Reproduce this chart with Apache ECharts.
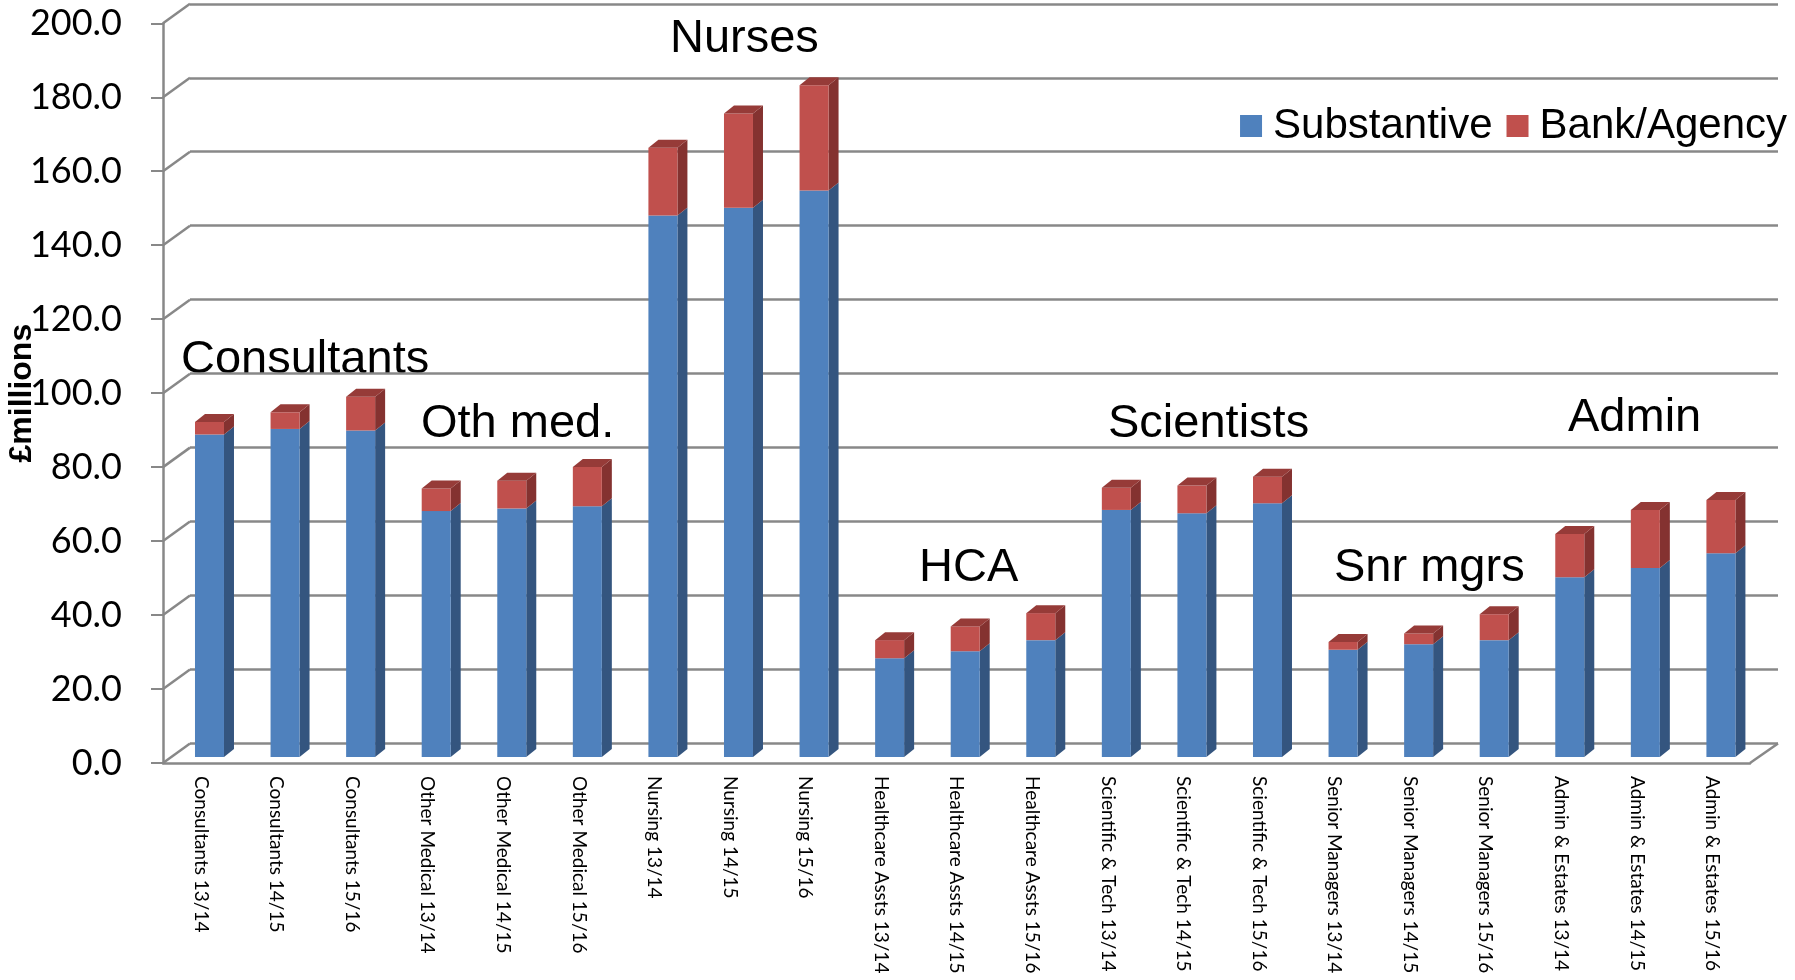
<!DOCTYPE html>
<html>
<head>
<meta charset="utf-8">
<script src="https://cdn.jsdelivr.net/npm/echarts@6/dist/echarts.min.js"></script>
<style>
    html, body { margin: 0; padding: 0; background: #fff; }
    #chart { width: 1795px; height: 980px; }
</style>
</head>
<body>
<div id="chart"></div>
<script>
const categories = [
    'Consultants 13/14', 'Consultants 14/15', 'Consultants 15/16',
    'Other Medical 13/14', 'Other Medical 14/15', 'Other Medical 15/16',
    'Nursing 13/14', 'Nursing 14/15', 'Nursing 15/16',
    'Healthcare Assts 13/14', 'Healthcare Assts 14/15', 'Healthcare Assts 15/16',
    'Scientific & Tech 13/14', 'Scientific & Tech 14/15', 'Scientific & Tech 15/16',
    'Senior Managers 13/14', 'Senior Managers 14/15', 'Senior Managers 15/16',
    'Admin & Estates 13/14', 'Admin & Estates 14/15', 'Admin & Estates 15/16'
]
const substantive = [
    87.2, 88.7, 88.3,
    66.5, 67.2, 67.8,
    146.4, 148.5, 153.2,
    26.7, 28.6, 31.6,
    66.8, 65.9, 68.6,
    29.0, 30.5, 31.6,
    48.6, 51.1, 55.1
]
const bankAgency = [
    3.4, 4.5, 9.1,
    6.1, 7.5, 10.6,
    18.3, 25.5, 28.4,
    4.9, 6.7, 7.3,
    6.0, 7.5, 7.2,
    2.1, 2.9, 7.0,
    11.7, 15.7, 14.4
]
const yTicks = [0, 20, 40, 60, 80, 100, 120, 140, 160, 180, 200]
const groupNames = ['Consultants', 'Oth med.', 'Nurses', 'HCA', 'Scientists', 'Snr mgrs', 'Admin']

// pixel placement of the group captions
const groupPos = [[181, 357], [421, 421], [670, 36], [919, 565], [1108, 421], [1334, 565], [1568, 415]]

// fake 3d: wall depth, bar plane offset, bar depth
const WALL = [27, -19.5]
const BAR_OFF = [8.7, -6]
const BAR_DEPTH = [10, -8]
const BAR_W = 29
const AXIS_COLOR = '#888888'

function segment(api, i, lo, hi, colors, withTop) {
    const p0 = api.coord([i, lo])
    const p1 = api.coord([i, hi])
    const x0 = p0[0] + BAR_OFF[0] - BAR_W / 2
    const x1 = x0 + BAR_W
    const yb = p0[1] + BAR_OFF[1]
    const yt = p1[1] + BAR_OFF[1]
    const dx = BAR_DEPTH[0]
    const dy = BAR_DEPTH[1]
    const children = [
        {
            type: 'polygon',
            shape: { points: [[x1, yb], [x1, yt], [x1 + dx, yt + dy], [x1 + dx, yb + dy]] },
            style: { fill: colors.side }
        },
        {
            type: 'rect',
            shape: { x: x0, y: yt, width: BAR_W, height: yb - yt },
            style: { fill: colors.front }
        }
    ]
    if (withTop) {
        children.push({
            type: 'polygon',
            shape: { points: [[x0, yt], [x1, yt], [x1 + dx, yt + dy], [x0 + dx, yt + dy]] },
            style: { fill: colors.top }
        })
    }
    return { type: 'group', children: children }
}

const blue = { front: '#4F81BD', side: '#34557F', top: '#3E6595' }
const red = { front: '#C0504D', side: '#843230', top: '#963B38' }

const chart = echarts.init(document.getElementById('chart'))
chart.setOption({
    backgroundColor: '#fff',
    animation: false,
    legend: {
        data: ['Substantive', 'Bank/Agency'],
        right: 3,
        top: 100,
        icon: 'rect',
        itemWidth: 22,
        itemHeight: 22,
        itemGap: 14,
        textStyle: {
            fontFamily: 'Liberation Sans',
            fontSize: 42,
            color: '#000',
            padding: [0, 0, 0, 6]
        }
    },
    grid: [
        { left: 163, right: 45, top: 23.3, bottom: 217, outerBoundsMode: 'none' },
        { left: 163 + WALL[0], right: 45 - 28, top: 23.3 + WALL[1], bottom: 217 - WALL[1], outerBoundsMode: 'none' }
    ],
    xAxis: [
        {
            type: 'category',
            gridIndex: 0,
            data: categories,
            axisLine: { lineStyle: { color: AXIS_COLOR, width: 2.5 } },
            axisTick: { length: 8, lineStyle: { color: AXIS_COLOR, width: 2 } },
            axisLabel: {
                interval: 0,
                rotate: -90,
                margin: 13,
                fontFamily: 'Lato',
                fontSize: 19,
                color: '#000'
            }
        },
        {
            type: 'category',
            gridIndex: 1,
            data: categories,
            show: false
        }
    ],
    yAxis: [
        {
            type: 'value',
            gridIndex: 0,
            min: 0,
            max: 200,
            interval: 20,
            name: '£millions',
            nameLocation: 'middle',
            nameRotate: 90,
            nameGap: 125,
            nameMoveOverlap: false,
            nameTextStyle: {
                fontFamily: 'Liberation Sans',
                fontWeight: 'bold',
                fontSize: 32,
                color: '#000'
            },
            axisLine: { show: true, lineStyle: { color: AXIS_COLOR, width: 2.5 } },
            axisTick: { show: true, length: 12, lineStyle: { color: AXIS_COLOR, width: 2 } },
            axisLabel: {
                margin: 41,
                fontFamily: 'Lato',
                fontSize: 36,
                color: '#000',
                formatter: function (v) { return v.toFixed(1) }
            },
            splitLine: { show: false }
        },
        {
            type: 'value',
            gridIndex: 1,
            min: 0,
            max: 200,
            interval: 20,
            axisLine: { show: false },
            axisTick: { show: false },
            axisLabel: { show: false },
            splitLine: { show: true, lineStyle: { color: AXIS_COLOR, width: 2.5 } }
        }
    ],
    series: [
        {
            // side wall connectors and floor edge
            type: 'custom',
            xAxisIndex: 0,
            yAxisIndex: 0,
            silent: true,
            data: yTicks.map(function (v) { return [0, v] }),
            renderItem: function (params, api) {
                const cs = params.coordSys
                const y = api.coord([0, api.value(1)])[1]
                const lines = [{
                    type: 'line',
                    shape: { x1: cs.x, y1: y, x2: cs.x + WALL[0], y2: y + WALL[1] },
                    style: { stroke: AXIS_COLOR, lineWidth: 2.5 }
                }]
                if (api.value(1) === 0) {
                    lines.push({
                        type: 'line',
                        shape: { x1: cs.x + cs.width, y1: y, x2: cs.x + cs.width + 28, y2: y + WALL[1] },
                        style: { stroke: AXIS_COLOR, lineWidth: 2.5 }
                    })
                }
                return { type: 'group', children: lines }
            }
        },
        {
            name: 'Substantive',
            type: 'custom',
            xAxisIndex: 0,
            yAxisIndex: 0,
            itemStyle: { color: '#4F81BD' },
            data: substantive.map(function (v, i) { return [i, 0, v] }),
            renderItem: function (params, api) {
                return segment(api, api.value(0), api.value(1), api.value(2), blue, false)
            }
        },
        {
            name: 'Bank/Agency',
            type: 'custom',
            xAxisIndex: 0,
            yAxisIndex: 0,
            itemStyle: { color: '#C0504D' },
            data: bankAgency.map(function (v, i) { return [i, substantive[i], substantive[i] + v] }),
            renderItem: function (params, api) {
                return segment(api, api.value(0), api.value(1), api.value(2), red, true)
            }
        }
    ],
    graphic: groupNames.map(function (name, k) {
        return {
            type: 'text',
            left: groupPos[k][0],
            top: groupPos[k][1] - 20,
            style: {
                text: name,
                fontFamily: 'Liberation Sans',
                fontSize: 47,
                fill: '#000'
            }
        }
    })
})
</script>
</body>
</html>
